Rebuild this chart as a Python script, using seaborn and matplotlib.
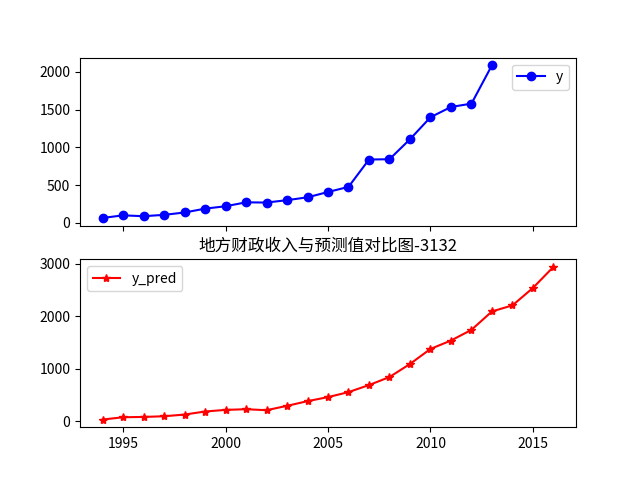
import pandas as pd
import seaborn as sns
import matplotlib.pyplot as plt

plt.rcParams['font.family'] = ['Noto Sans CJK SC', 'DejaVu Sans']
plt.rcParams['axes.unicode_minus'] = False

years_y = list(range(1994, 2014))
y = [64.87, 99.75, 88.11, 106.07, 137.32, 188.14, 219.91, 271.91, 269.10, 300.55,
     338.45, 408.86, 476.72, 838.99, 843.14, 1107.67, 1399.16, 1535.14, 1579.68, 2088.14]

years_pred = list(range(1994, 2017))
y_pred = [32, 76, 82, 95, 127, 185, 216, 229, 210, 293, 382, 459, 554, 688, 841,
          1089, 1376, 1535, 1739, 2089, 2204, 2536, 2937]

df_y = pd.DataFrame({'year': years_y, 'y': y})
df_pred = pd.DataFrame({'year': years_pred, 'y_pred': y_pred})

fig, (ax1, ax2) = plt.subplots(2, 1, sharex=True, figsize=(6.4, 4.8), dpi=100)

sns.lineplot(data=df_y, x='year', y='y', ax=ax1, color='blue', marker='o',
             markeredgecolor='blue', markeredgewidth=1, label='y')
ax1.legend(loc='upper right')
ax1.set_xlabel('')
ax1.set_ylabel('')

sns.lineplot(data=df_pred, x='year', y='y_pred', ax=ax2, color='red', marker='*',
             markeredgecolor='red', markeredgewidth=1, label='y_pred')
ax2.legend(loc='upper left')
ax2.set_xlabel('')
ax2.set_ylabel('')
ax2.set_title('地方财政收入与预测值对比图-3132')

plt.savefig('out.png')
